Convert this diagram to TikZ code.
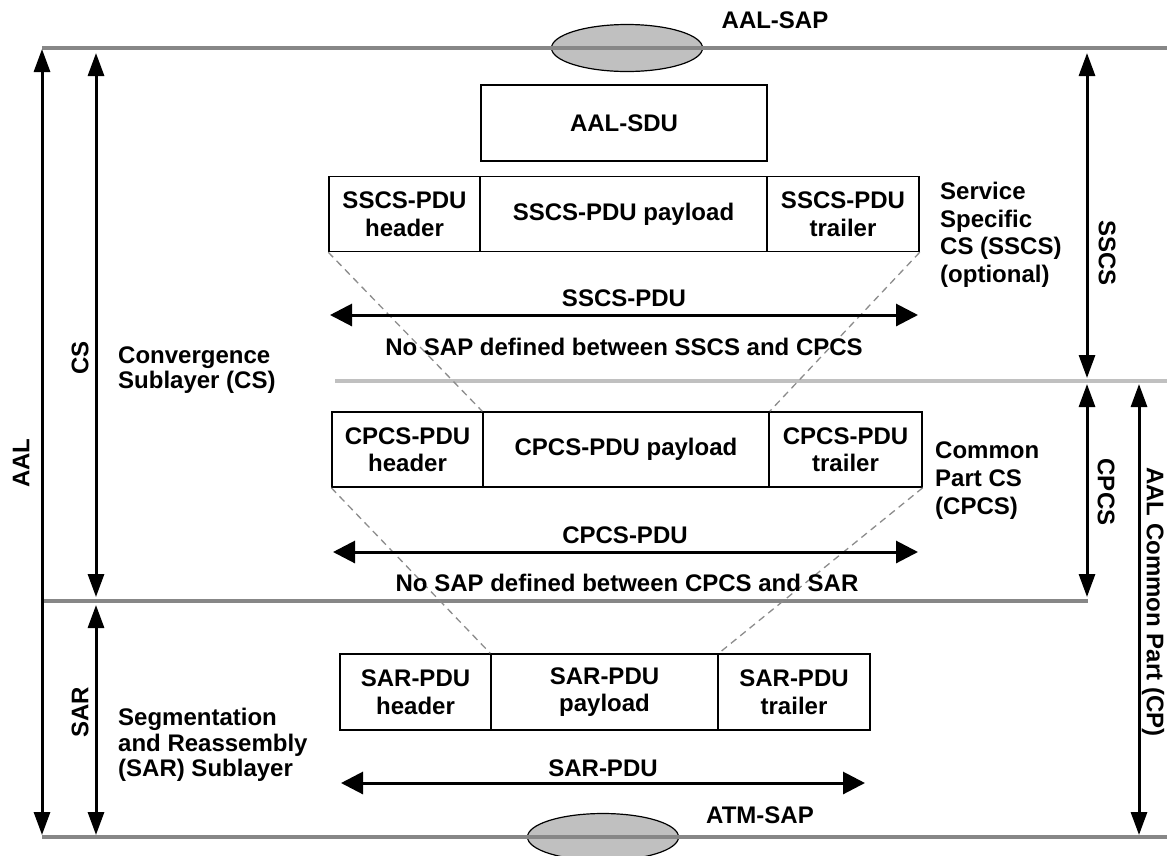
\documentclass[tikz,border=0pt]{standalone}
\usepackage{fontspec}
\setmainfont{Liberation Sans}
\usetikzlibrary{shapes.geometric,arrows.meta}
\definecolor{layergray}{HTML}{878787}
\definecolor{lightlayer}{HTML}{C0C0C0}
\definecolor{sapfill}{HTML}{C0C0C0}
\definecolor{dashgray}{HTML}{8C8C8C}
\begin{document}
\begin{tikzpicture}[x=1pt,y=-1pt,
  every node/.style={font=\fontsize{24}{27.5}\selectfont\bfseries, inner sep=0pt},
  cell/.style={draw, line width=1.5pt, align=center, minimum height=75pt},
  sidetext/.style={align=left, anchor=west},
  sap/.style={ellipse, draw, line width=1.2pt, fill=sapfill, minimum width=151pt, minimum height=47pt},
  layer/.style={line width=4pt, layergray},
  sublayer/.style={line width=3.5pt, lightlayer},
  vdim/.style={line width=3pt, {Triangle[length=23pt,width=16pt]}-{Triangle[length=23pt,width=16pt]}},
  hdim/.style={line width=3pt, {Triangle[length=22pt,width=22pt]}-{Triangle[length=22pt,width=22pt]}},
  mapline/.style={dashgray, line width=1.3pt, dash pattern=on 7pt off 5pt}
]
\useasboundingbox (0,0) rectangle (1167,855);

% service access points
\node[sap] (aalsap) at (627,48) {};
\node[sap] (atmsap) at (603,837) {};
\node (aalsaplbl) at (775,20) {AAL-SAP};
\node (atmsaplbl) at (760,815) {ATM-SAP};

% layer boundaries
\coordinate (topL) at (42,48);   \coordinate (topR) at (1167,48);
\coordinate (midL) at (335,381); \coordinate (midR) at (1167,381);
\coordinate (sarL) at (42,601);  \coordinate (sarR) at (1088,601);
\coordinate (botL) at (42,837);  \coordinate (botR) at (1167,837);
\draw[layer] (topL) -- (topR);
\draw[sublayer] (midL) -- (midR);
\draw[layer] (sarL) -- (sarR);
\draw[layer] (botL) -- (botR);

% AAL-SDU
\node[cell, minimum width=286pt, minimum height=76pt] (sdu) at (624,123) {AAL-SDU};

% SSCS-PDU
\node[cell, minimum width=151pt] (sh) at (404.5,214) {SSCS-PDU\\header};
\node[cell, minimum width=287pt] (sp) at (623.5,214) {SSCS-PDU payload};
\node[cell, minimum width=152pt] (st) at (843,214) {SSCS-PDU\\trailer};

% CPCS-PDU
\node[cell, minimum width=151pt] (ch) at (407.5,449.5) {CPCS-PDU\\header};
\node[cell, minimum width=286pt] (cp) at (626,449.5) {CPCS-PDU payload};
\node[cell, minimum width=153pt] (ct) at (845.5,449.5) {CPCS-PDU\\trailer};

% SAR-PDU
\node[cell, minimum width=151pt, minimum height=76pt] (rh) at (415.5,692) {SAR-PDU\\header};
\node[cell, minimum width=227pt, minimum height=76pt] (rp) at (604.5,692) {SAR-PDU\\payload};
\node[cell, minimum width=152pt, minimum height=76pt] (rt) at (794,692) {SAR-PDU\\trailer};

% mapping of each PDU into the payload below
\draw[mapline] (sh.south west) -- (cp.north west);
\draw[mapline] (st.south east) -- (cp.north east);
\draw[mapline] (ch.south west) -- (rp.north west);
\draw[mapline] (ct.south east) -- (rp.north east);

% PDU extents
\coordinate (sspduL) at (330,315); \coordinate (sspduR) at (918,315);
\coordinate (cppduL) at (333,552); \coordinate (cppduR) at (918,552);
\coordinate (sarpduL) at (341,783); \coordinate (sarpduR) at (865,783);
\draw[hdim] (sspduL) -- (sspduR);
\draw[hdim] (cppduL) -- (cppduR);
\draw[hdim] (sarpduL) -- (sarpduR);
\node (sspdulbl) at (624,298) {SSCS-PDU};
\node (cppdulbl) at (625,535) {CPCS-PDU};
\node (sarpdulbl) at (603,768) {SAR-PDU};
\node (nosap1) at (624,347) {No SAP defined between SSCS and CPCS};
\node (nosap2) at (627,583) {No SAP defined between CPCS and SAR};

% sublayer descriptions
\node[sidetext, font=\fontsize{24}{25.5}\selectfont\bfseries] (conv) at (118,370) {Convergence\\Sublayer (CS)};
\node[sidetext, font=\fontsize{24}{25.5}\selectfont\bfseries] (seg) at (118,745) {Segmentation\\and Reassembly\\(SAR) Sublayer};
\node[sidetext] (sscsdesc) at (940,235) {Service\\Specific\\CS (SSCS)\\(optional)};
\node[sidetext, font=\fontsize{24}{28}\selectfont\bfseries] (cpcsdesc) at (935,481) {Common\\Part CS\\(CPCS)};

% left extents
\coordinate (aalT) at (42,49);  \coordinate (aalB) at (42,835);
\coordinate (csT) at (96,53);   \coordinate (csB) at (96,597);
\coordinate (sarT) at (96,605); \coordinate (sarB) at (96,835);
\draw[vdim] (aalT) -- (aalB);
\draw[vdim] (csT) -- (csB);
\draw[vdim] (sarT) -- (sarB);
\node[rotate=90] (aallbl) at (21,463) {AAL};
\node[rotate=90] (cslbl) at (80,358) {CS};
\node[rotate=90] (sarlbl) at (80,712) {SAR};

% right extents
\coordinate (ssT) at (1087,53);   \coordinate (ssB) at (1087,378);
\coordinate (cpcsT) at (1087,384); \coordinate (cpcsB) at (1087,597);
\coordinate (cpT) at (1139,384);  \coordinate (cpB) at (1139,835);
\draw[vdim] (ssT) -- (ssB);
\draw[vdim] (cpcsT) -- (cpcsB);
\draw[vdim] (cpT) -- (cpB);
\node[rotate=-90] (sscslbl) at (1107,253) {SSCS};
\node[rotate=-90] (cpcslbl) at (1106,492) {CPCS};
\node[rotate=-90] (cplbl) at (1153,602) {AAL Common Part (CP)};
\end{tikzpicture}
\end{document}
